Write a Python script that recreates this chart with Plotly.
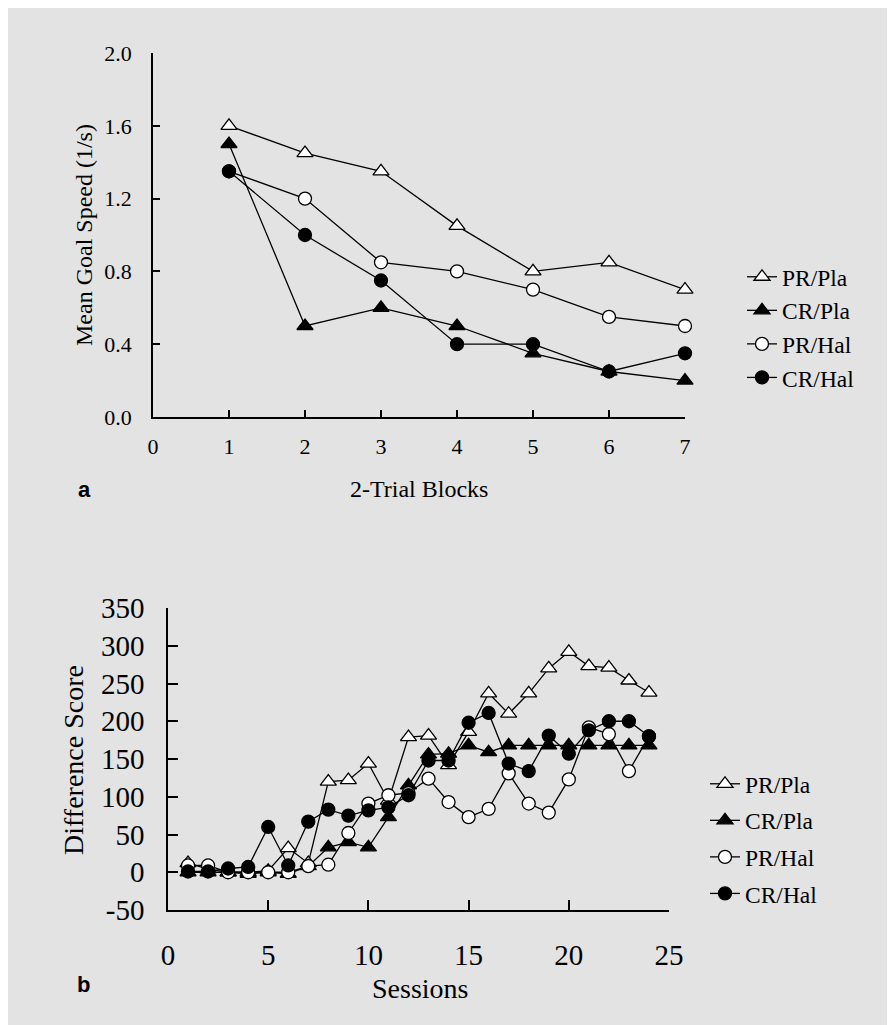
import plotly.graph_objects as go

# ---------------- data ----------------
series_names = ["PR/Pla", "CR/Pla", "PR/Hal", "CR/Hal"]

blocks = [1, 2, 3, 4, 5, 6, 7]
speed_pr_pla = [1.60, 1.45, 1.35, 1.05, 0.80, 0.85, 0.70]
speed_cr_pla = [1.50, 0.50, 0.60, 0.50, 0.35, 0.25, 0.20]
speed_pr_hal = [1.35, 1.20, 0.85, 0.80, 0.70, 0.55, 0.50]
speed_cr_hal = [1.35, 1.00, 0.75, 0.40, 0.40, 0.25, 0.35]

sessions = list(range(1, 25))
diff_pr_pla = [12, 4, 0, 0, 2, 32, 12, 120, 122, 144, 95, 179, 181, 142, 186, 237, 210, 237, 270, 292, 273, 271, 254, 238]
diff_cr_pla = [0, 0, 0, -2, 0, -2, 8, 33, 40, 33, 73, 115, 156, 157, 168, 159, 168, 168, 168, 168, 168, 168, 168, 168]
diff_pr_hal = [9, 9, 0, 0, 0, 0, 8, 10, 52, 91, 102, 105, 124, 93, 73, 84, 131, 91, 79, 123, 192, 183, 134, 180]
diff_cr_hal = [1, 1, 5, 7, 60, 9, 67, 83, 75, 82, 86, 102, 148, 148, 198, 211, 144, 134, 181, 157, 188, 200, 200, 180]

x_ticks_a = [0, 1, 2, 3, 4, 5, 6, 7]
y_ticks_a = [0.0, 0.4, 0.8, 1.2, 1.6, 2.0]
x_ticks_b = [0, 5, 10, 15, 20, 25]
y_ticks_b = [-50, 0, 50, 100, 150, 200, 250, 300, 350]
y_tick_labels_b = ["-50", "0", "50", "100", "150", "200", "250", "300", "350"]

# ---------------- style ----------------
W, H = 895, 1025
BG = "#e3e3e3"
SERIF = "Liberation Serif, Times New Roman, serif"
SANS = "Liberation Sans, Arial, sans-serif"
symbols = ["triangle-up", "triangle-up", "circle", "circle"]
fills = ["white", "black", "white", "black"]
msize = [14, 14, 13, 13]


def px_x(p):
    return p / W


def px_y(p):
    return 1 - p / H


fig = go.Figure()

panel_a = [speed_pr_pla, speed_cr_pla, speed_pr_hal, speed_cr_hal]
panel_b = [diff_pr_pla, diff_cr_pla, diff_pr_hal, diff_cr_hal]

for i, (name, vals) in enumerate(zip(series_names, panel_a)):
    fig.add_trace(go.Scatter(
        x=blocks, y=vals, name=name, mode="lines+markers",
        xaxis="x", yaxis="y", legend="legend", legendgroup="a" + name,
        cliponaxis=False,
        line=dict(color="black", width=1.3),
        marker=dict(symbol=symbols[i], size=msize[i], color=fills[i],
                    line=dict(color="black", width=1.3)),
    ))

for i, (name, vals) in enumerate(zip(series_names, panel_b)):
    fig.add_trace(go.Scatter(
        x=sessions, y=vals, name=name, mode="lines+markers",
        xaxis="x2", yaxis="y2", legend="legend2", legendgroup="b" + name,
        cliponaxis=False,
        line=dict(color="black", width=1.3),
        marker=dict(symbol=symbols[i], size=msize[i], color=fills[i],
                    line=dict(color="black", width=1.3)),
    ))

axis_common = dict(showgrid=False, zeroline=False, showline=True,
                   linecolor="black", linewidth=1.5, ticks="inside",
                   tickcolor="black", tickwidth=1.5, automargin=False)

fig.update_layout(
    template="none",
    width=W, height=H,
    margin=dict(l=0, r=0, t=0, b=0, pad=0, autoexpand=False),
    paper_bgcolor=BG, plot_bgcolor=BG,
    font=dict(family=SERIF, color="black"),
    xaxis=dict(domain=[px_x(145), px_x(677)], range=[0, 7], anchor="y",
               tickvals=x_ticks_a, ticklen=7, ticklabelstandoff=9,
               tickfont=dict(size=22, family=SERIF), **axis_common),
    yaxis=dict(domain=[px_y(409), px_y(45)], range=[0, 2.0], anchor="x",
               tickvals=y_ticks_a, tickformat=".1f", ticklen=7,
               ticklabelstandoff=15,
               tickfont=dict(size=22, family=SERIF), **axis_common),
    xaxis2=dict(domain=[px_x(160), px_x(661)], range=[0, 25], anchor="y2",
                tickvals=x_ticks_b, ticklen=10, ticklabelstandoff=18,
                tickfont=dict(size=29, family=SERIF), **axis_common),
    yaxis2=dict(domain=[px_y(902), px_y(600)], range=[-50, 350], anchor="x2",
                tickvals=y_ticks_b, ticktext=y_tick_labels_b, ticklen=10,
                ticklabelstandoff=16,
                tickfont=dict(size=29, family=SERIF), **axis_common),
    legend=dict(x=px_x(734), y=px_y(247), xanchor="left", yanchor="top",
                bgcolor="rgba(0,0,0,0)", traceorder="grouped",
                tracegroupgap=0, font=dict(size=23.5, family=SERIF)),
    legend2=dict(x=px_x(697), y=px_y(754), xanchor="left", yanchor="top",
                 bgcolor="rgba(0,0,0,0)", traceorder="grouped",
                 tracegroupgap=3, font=dict(size=23.5, family=SERIF)),
    showlegend=True,
)

annots = [
    dict(text="Mean Goal Speed (1/s)", x=px_x(76), y=px_y(227), textangle=-90,
         font=dict(size=24, family=SERIF)),
    dict(text="2-Trial Blocks", x=px_x(411), y=px_y(481),
         font=dict(size=24, family=SERIF)),
    dict(text="Difference Score", x=px_x(65), y=px_y(752), textangle=-90,
         font=dict(size=28, family=SERIF)),
    dict(text="Sessions", x=px_x(412), y=px_y(980),
         font=dict(size=28, family=SERIF)),
    dict(text="<b>a</b>", x=px_x(76), y=px_y(481),
         font=dict(size=22, family=SANS)),
    dict(text="<b>b</b>", x=px_x(75), y=px_y(976),
         font=dict(size=22, family=SANS)),
]
for a in annots:
    fig.add_annotation(xref="paper", yref="paper", xanchor="center",
                       yanchor="middle", showarrow=False, **a)

fig.write_html("out.html", config={"displayModeBar": False})
